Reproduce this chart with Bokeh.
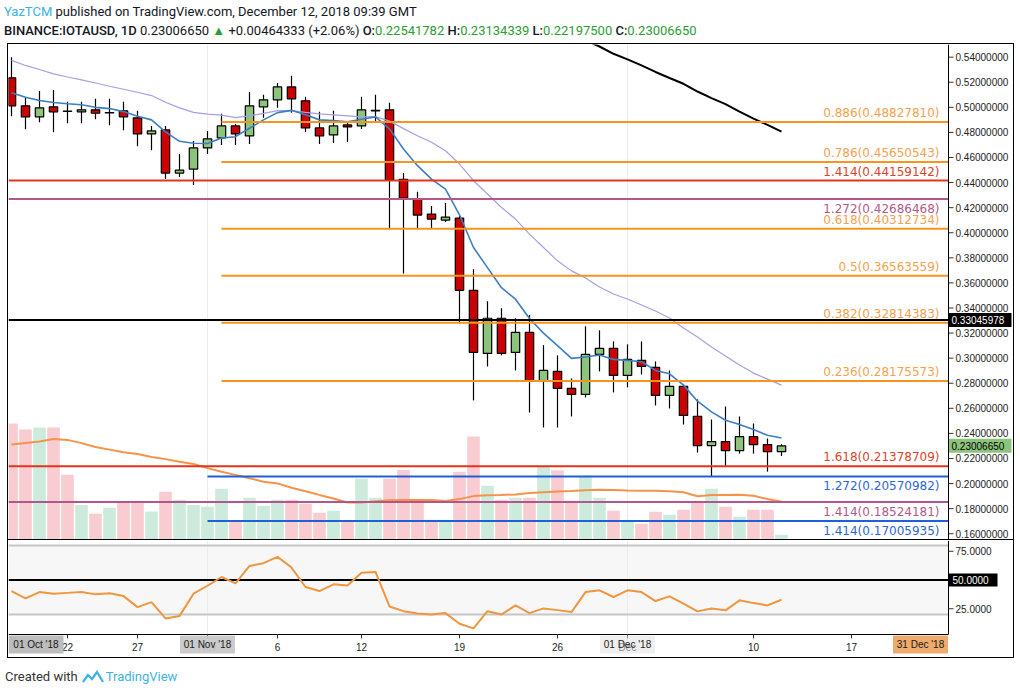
import math
import pandas as pd
from bokeh.plotting import figure
from bokeh.models import Range1d, Span, BoxAnnotation, Div
from bokeh.layouts import column
from bokeh.embed import file_html
from bokeh.resources import INLINE
from bokeh.core.properties import value

NaN = float("nan")

# ---------------- data ----------------
dates = pd.date_range("2018-10-18", "2018-12-12", freq="D")

opens = [0.5235, 0.5012, 0.4924, 0.5004, 0.4970, 0.4964, 0.4980, 0.4955, 0.4972, 0.4916,
         0.4788, 0.4820, 0.4476, 0.4508, 0.4676, 0.4756, 0.4852, 0.4772, 0.5004, 0.5060,
         0.5163, 0.5052, 0.4836, 0.4780, 0.4860, 0.4852, 0.4972, 0.4980, 0.4426, 0.4266,
         0.4149, 0.4101, 0.4117, 0.3541, 0.3038, 0.3318, 0.3046, 0.3206, 0.2817, 0.2894,
         0.2759, 0.2711, 0.3030, 0.3078, 0.2862, 0.2982, 0.2926, 0.2703, 0.2775, 0.2535,
         0.2303, 0.2335, 0.2263, 0.2375, 0.2311, 0.22541782]
highs = [0.5400, 0.5075, 0.5131, 0.5139, 0.5044, 0.5044, 0.5068, 0.5068, 0.5044, 0.4972,
         0.4852, 0.4852, 0.4628, 0.4732, 0.4812, 0.4948, 0.4868, 0.5123, 0.5100, 0.5195,
         0.5251, 0.5084, 0.4964, 0.4972, 0.4892, 0.5084, 0.5100, 0.5036, 0.4476, 0.4327,
         0.4213, 0.4237, 0.4135, 0.3709, 0.3454, 0.3398, 0.3318, 0.3344, 0.3104, 0.3022,
         0.2838, 0.3254, 0.3222, 0.3134, 0.3110, 0.3134, 0.2974, 0.2902, 0.2790, 0.2671,
         0.2511, 0.2615, 0.2535, 0.2479, 0.2359, 0.23134339]
lows = [0.4929, 0.4825, 0.4881, 0.4801, 0.4873, 0.4873, 0.4905, 0.4857, 0.4817, 0.4689,
        0.4657, 0.4428, 0.4444, 0.4380, 0.4628, 0.4700, 0.4700, 0.4708, 0.4916, 0.4996,
        0.4956, 0.4804, 0.4708, 0.4716, 0.4724, 0.4828, 0.4884, 0.4037, 0.3674, 0.4037,
        0.4037, 0.4085, 0.3278, 0.2663, 0.2934, 0.3022, 0.2902, 0.2567, 0.2447, 0.2447,
        0.2535, 0.2687, 0.2894, 0.2727, 0.2767, 0.2870, 0.2623, 0.2599, 0.2471, 0.2247,
        0.2055, 0.2135, 0.2239, 0.2239, 0.2095, 0.22197500]
closes = [0.5012, 0.4924, 0.4996, 0.4964, 0.4968, 0.4980, 0.4953, 0.4958, 0.4924, 0.4788,
          0.4812, 0.4476, 0.4500, 0.4676, 0.4748, 0.4852, 0.4788, 0.5012, 0.5060, 0.5163,
          0.5068, 0.4836, 0.4772, 0.4852, 0.4844, 0.4980, 0.4976, 0.4420, 0.4277, 0.4141,
          0.4109, 0.4125, 0.3541, 0.3046, 0.3318, 0.3038, 0.3206, 0.2817, 0.2902, 0.2759,
          0.2711, 0.3030, 0.3078, 0.2862, 0.2990, 0.2934, 0.2703, 0.2775, 0.2543, 0.2303,
          0.2335, 0.2263, 0.2375, 0.2311, 0.22542317, 0.23006650]
volumes = [116.7, 110.7, 112.7, 112.7, 65.7, 35.4, 26.7, 32.7, 37.7, 37.7,
           29.0, 48.7, 40.7, 35.4, 33.7, 51.7, 19.7, 42.7, 34.7, 40.7,
           40.7, 36.7, 27.7, 29.7, 18.7, 61.7, 42.7, 61.7, 70.4, 38.0,
           20.7, 20.7, 68.7, 103.7, 54.7, 40.7, 42.7, 42.7, 74.7, 70.0,
           39.7, 64.7, 42.7, 29.7, 19.7, 16.7, 28.7, 25.7, 30.7, 37.7,
           51.7, 33.7, 23.7, 30.7, 30.7, 5.7]
volume_ma = [95.7, 97.2, 98.7, 101.4, 100.4, 97.2, 93.4, 90.7, 88.0, 86.4,
             83.4, 81.2, 78.7, 76.4, 72.2, 68.7, 65.5, 62.2, 58.7, 57.0,
             52.7, 49.2, 45.5, 41.9, 38.0, 38.0, 39.2, 40.2, 40.4, 40.4,
             40.4, 39.5, 41.3, 44.3, 45.2, 45.5, 46.0, 47.4, 48.2, 48.9,
             49.5, 50.2, 50.7, 50.3, 49.9, 49.7, 49.7, 49.2, 48.1, 44.1,
             45.4, 45.5, 45.7, 44.7, 41.4, 38.7]
ma_fast = [0.5116, 0.5080, 0.5054, 0.5038, 0.5028, 0.5020, 0.5000, 0.4990, 0.4966, 0.4929,
           0.4900, 0.4804, 0.4729, 0.4713, 0.4712, 0.4756, 0.4766, 0.4833, 0.4900, 0.4958,
           0.4976, 0.4940, 0.4900, 0.4894, 0.4884, 0.4905, 0.4924, 0.4828, 0.4668, 0.4535,
           0.4428, 0.4348, 0.4143, 0.3882, 0.3722, 0.3562, 0.3470, 0.3316, 0.3200, 0.3100,
           0.2998, 0.3009, 0.3025, 0.2990, 0.2982, 0.2971, 0.2902, 0.2875, 0.2785, 0.2657,
           0.2572, 0.2505, 0.2471, 0.2431, 0.2385, 0.2364]
ma_slow = [0.5374, 0.5334, 0.5302, 0.5267, 0.5242, 0.5219, 0.5194, 0.5168, 0.5144, 0.5120,
           0.5094, 0.5040, 0.4996, 0.4960, 0.4946, 0.4938, 0.4918, 0.4932, 0.4952, 0.4974,
           0.4974, 0.4960, 0.4948, 0.4940, 0.4932, 0.4924, 0.4926, 0.4890, 0.4830, 0.4774,
           0.4721, 0.4654, 0.4548, 0.4415, 0.4309, 0.4201, 0.4109, 0.3989, 0.3882, 0.3776,
           0.3696, 0.3640, 0.3568, 0.3512, 0.3472, 0.3424, 0.3376, 0.3320, 0.3240, 0.3168,
           0.3089, 0.3017, 0.2945, 0.2881, 0.2833, 0.2785]
ma_long = [NaN] * 41 + [0.5535, 0.5485, 0.5427, 0.5382, 0.5334, 0.5282, 0.5234, 0.5188,
                        0.5126, 0.5074, 0.5026, 0.4966, 0.4910, 0.4860, 0.4806]
rsi = [40.4, 34.0, 39.5, 38.1, 38.8, 39.5, 37.5, 38.4, 36.0, 26.4,
       30.8, 16.6, 18.6, 38.1, 45.0, 52.6, 47.1, 62.2, 64.6, 70.1,
       60.8, 43.9, 40.4, 46.2, 45.3, 56.4, 57.0, 27.0, 22.9, 20.9,
       20.0, 21.2, 11.9, 7.9, 22.9, 20.0, 27.9, 21.2, 25.3, 23.8,
       22.1, 39.5, 41.0, 35.2, 41.0, 39.5, 31.7, 35.8, 29.5, 22.7,
       25.3, 23.6, 32.3, 29.9, 27.9, 32.8]

fib_ratios = ["0.886", "0.786", "1.414", "1.272", "0.618", "0.5", "0.382", "0.236",
              "1.618", "1.272", "1.414", "1.414"]
fib_levels = [0.48827810, 0.45650543, 0.44159142, 0.42686468, 0.40312734, 0.36563559,
              0.32814383, 0.28175573, 0.21378709, 0.20570982, 0.18524181, 0.17005935]
fib_kind = ["retr", "retr", "ext_r", "ext_m", "retr", "retr", "retr", "retr",
            "ext_r", "ext_b", "ext_m", "ext_b"]
fib_start = {"retr": "2018-11-02", "ext_b": "2018-11-01", "ext_r": None, "ext_m": None}
hline_level = 0.33045978

price_ticks = [0.16, 0.18, 0.20, 0.22, 0.24, 0.26, 0.28, 0.30, 0.32, 0.34, 0.36, 0.38,
               0.40, 0.42, 0.44, 0.46, 0.48, 0.50, 0.52, 0.54]
rsi_ticks = [25, 50, 75]
rsi_mid = 50
rsi_bands = [20, 80]
x_tick_dates = ["2018-10-22", "2018-10-27", "2018-11-01", "2018-11-06", "2018-11-12",
                "2018-11-19", "2018-11-26", "2018-12-01", "2018-12-10", "2018-12-17"]
x_tick_labels = ["22", "27", "Nov", "6", "12", "19", "26", "Dec", "10", "17"]
month_marks = ["2018-11-01", "2018-12-01"]

symbol, interval = "BINANCE:IOTAUSD", "1D"
change, change_pct = 0.00464333, 2.06

# ---------------- styling / geometry ----------------
UP, DOWN = "#8cc47c", "#cc0000"
VOL_UP, VOL_DOWN = "#cdebdc", "#f8ccd0"
line_col = {"retr": "#f7931e", "ext_r": "#e5331b", "ext_m": "#b3568c", "ext_b": "#1f5fd8"}
text_col = {"retr": "#f2a24f", "ext_r": "#d9452c", "ext_m": "#b05a8c", "ext_b": "#2d66d4"}
AXF = value("Liberation Sans")
AXC = "#222222"

d0 = dates[0]
days = [(d - d0).days for d in dates]
def day_of(s):
    return (pd.Timestamp(s) - d0).days

FRAME_W = 1005            # full width incl. price scale
PX_DAY = 14.0
X0 = -0.214
XA = X0 + 940 / PX_DAY    # price-scale edge
XR = X0 + FRAME_W / PX_DAY

# ---------------- main pane ----------------
p = figure(frame_width=FRAME_W, frame_height=495, x_range=Range1d(X0, XR),
           y_range=Range1d(0.1546, 0.5501), x_axis_location=None, y_axis_location=None,
           toolbar_location=None, output_backend="svg",
           min_border_left=0, min_border_top=0, min_border_bottom=0, min_border_right=0)
p.grid.visible = False
p.outline_line_color = None
p.background_fill_color = "white"
p.styles = {"border-bottom": "1px solid black"}

for m in month_marks:
    p.add_layout(Span(location=day_of(m), dimension="height", line_color="#ececec",
                      line_width=1, level="underlay"))

p.extra_y_ranges = {"vol": Range1d(0, 495)}
vol_colors = [VOL_UP if c >= o else VOL_DOWN for o, c in zip(opens, closes)]
p.vbar(x=days, top=volumes, bottom=0, width=0.9, fill_color=vol_colors,
       line_color=None, y_range_name="vol")
p.line(days, volume_ma, y_range_name="vol", line_color="#f7924a", line_width=2)

# candles
p.segment(x0=days, y0=highs, x1=days, y1=lows, line_color="black", line_width=1.2)
body_top = [max(o, c) for o, c in zip(opens, closes)]
body_bot = [min(o, c) for o, c in zip(opens, closes)]
body_col = [UP if c >= o else DOWN for o, c in zip(opens, closes)]
p.vbar(x=days, top=body_top, bottom=body_bot, width=0.6, fill_color=body_col,
       line_color="black", line_width=1.2)

# moving averages
p.line(days, ma_slow, line_color="#a69ee6", line_width=1.2)
p.line(days, ma_fast, line_color="#3b7fc1", line_width=1.6)
p.line(days, ma_long, line_color="black", line_width=2)

# fib levels
nf = len(fib_levels)
x_start = [X0 if fib_start[k] is None else day_of(fib_start[k]) for k in fib_kind]
p.segment(x0=x_start, y0=fib_levels, x1=[XA] * nf, y1=fib_levels,
          line_color=[line_col[k] for k in fib_kind], line_width=2)
fib_text = [f"{r}({v:.8f})" for r, v in zip(fib_ratios, fib_levels)]
above = [i for i, k in enumerate(fib_kind) if k in ("retr", "ext_r")]
below = [i for i, k in enumerate(fib_kind) if k in ("ext_m", "ext_b")]
for idx, base, off in ((above, "bottom", -2), (below, "top", 3)):
    p.text(x=[XA] * len(idx), y=[fib_levels[i] for i in idx],
           text=[fib_text[i] for i in idx],
           text_color=[text_col[fib_kind[i]] for i in idx], text_font=value("DejaVu Sans"),
           text_font_size="12px", text_align="right", text_baseline=base,
           x_offset=-9, y_offset=off)
p.segment(x0=[X0], y0=[hline_level], x1=[XA], y1=[hline_level], line_color="black",
          line_width=2)

# price scale (drawn on the right of the chart area)
p.add_layout(Span(location=XA, dimension="height", line_color="black", line_width=1))
p.ray(x=[XA] * len(price_ticks), y=price_ticks, length=5, length_units="screen", angle=0,
      line_color="#333333", line_width=1)
p.text(x=[XA] * len(price_ticks), y=price_ticks, text=[f"{t:.8f}" for t in price_ticks],
       x_offset=7, text_align="left", text_baseline="middle", text_font=AXF,
       text_font_size="10px", text_color=AXC)
box_vals = [hline_level, closes[-1]]
box_fill = ["black", UP]
box_text = ["white", "black"]
p.rect(x=[XA + 31.5 / PX_DAY] * 2, y=box_vals, width=63, height=14, width_units="screen",
       height_units="screen", fill_color=box_fill, line_color=None)
p.text(x=[XA] * 2, y=box_vals, text=[f"{v:.8f}" for v in box_vals], x_offset=3,
       text_align="left", text_baseline="middle", text_font=AXF, text_font_size="10px",
       text_color=box_text)

# ---------------- RSI pane + time axis ----------------
RSI_LO, RSI_HI = 2.6, 84.35
PANE_PX, AXIS_PX = 94, 23
u_px = (RSI_HI - RSI_LO) / PANE_PX
Y_BOT = RSI_LO - AXIS_PX * u_px
y_lab = RSI_LO - 12.5 * u_px
y_box = RSI_LO - 10 * u_px

r = figure(frame_width=FRAME_W, frame_height=PANE_PX + AXIS_PX, x_range=p.x_range,
           y_range=Range1d(Y_BOT, RSI_HI), x_axis_location=None, y_axis_location=None,
           toolbar_location=None, output_backend="svg",
           min_border_left=0, min_border_top=0, min_border_bottom=0, min_border_right=0)
r.grid.visible = False
r.outline_line_color = None
r.add_layout(BoxAnnotation(left=X0, right=XA, bottom=rsi_bands[0], top=rsi_bands[1],
                           fill_color="#f7f7f7", fill_alpha=1, line_color=None,
                           level="underlay"))
r.segment(x0=[day_of(m) for m in month_marks], y0=[RSI_LO] * 2,
          x1=[day_of(m) for m in month_marks], y1=[RSI_HI] * 2,
          line_color="#ececec", line_width=1)
r.segment(x0=[X0] * 2, y0=rsi_bands, x1=[XA] * 2, y1=rsi_bands, line_color="#c6c6c6",
          line_width=2)
r.segment(x0=[X0], y0=[rsi_mid], x1=[XA], y1=[rsi_mid], line_color="black", line_width=2)
r.line(days, rsi, line_color="#f0963e", line_width=2)

# rsi scale
r.segment(x0=[XA], y0=[RSI_LO], x1=[XA], y1=[RSI_HI], line_color="black", line_width=1)
r.segment(x0=[X0], y0=[RSI_LO], x1=[XA], y1=[RSI_LO], line_color="black", line_width=1)
r.ray(x=[XA] * len(rsi_ticks), y=rsi_ticks, length=5, length_units="screen", angle=0,
      line_color="#333333")
r.rect(x=[XA + 24.5 / PX_DAY], y=[rsi_mid], width=49, height=13, width_units="screen",
       height_units="screen", fill_color="black", line_color=None)
r.text(x=[XA] * len(rsi_ticks), y=rsi_ticks, text=[f"{t:.4f}" for t in rsi_ticks],
       x_offset=[4 if t == rsi_mid else 7 for t in rsi_ticks], text_align="left",
       text_baseline="middle", text_font=AXF, text_font_size="10px",
       text_color=["white" if t == rsi_mid else AXC for t in rsi_ticks])

# time axis: ticks and labels
tick_x = [day_of(t) for t in x_tick_dates]
r.ray(x=tick_x, y=[RSI_LO] * len(tick_x), length=4, length_units="screen",
      angle=-math.pi / 2, line_color="#333333")
r.text(x=tick_x, y=[y_lab] * len(tick_x), text=x_tick_labels, text_align="center",
       text_baseline="middle", text_font=AXF, text_font_size="10px", text_color=AXC)
sticky_text = ["01 Oct '18", "01 Nov '18", "01 Dec '18", "31 Dec '18"]
sticky_x = [X0 + 27.5 / PX_DAY, day_of("2018-11-01"), day_of("2018-12-01"),
            XA - 28 / PX_DAY]
sticky_fill = ["#bcbcbc", "#c8c8c8", "#e2e2e2", "#eeab6b"]
sticky_alpha = [1.0, 0.95, 0.55, 1.0]
r.rect(x=sticky_x, y=[y_box] * 4, width=55, height=18, width_units="screen",
       height_units="screen", fill_color=sticky_fill, fill_alpha=sticky_alpha,
       line_color=None)
r.text(x=sticky_x, y=[y_box] * 4, text=sticky_text, text_align="center",
       text_baseline="middle", text_font=AXF, text_font_size="10px", text_color="#1a1a1a")

# ---------------- header / footer ----------------
G = "#2a9d34"
last = len(closes) - 1
header_html = f"""
<div style="position:relative;top:2px;left:4px;font-family:Roboto,sans-serif;font-size:13px;
line-height:19px;color:#131722;white-space:nowrap;">
<div><span style="color:#3bb3e4">YazTCM</span> published on TradingView.com, December 12, 2018 09:39 GMT</div>
<div><span style="font-weight:500">{symbol}, {interval}</span> {closes[last]:.8f}
<span style="color:{G}">&#9650;</span> +{change:.8f} (+{change_pct:.2f}%)
<span style="font-weight:500">O:</span><span style="color:{G}">{opens[last]:.8f}</span>
<span style="font-weight:500">H:</span><span style="color:{G}">{highs[last]:.8f}</span>
<span style="font-weight:500">L:</span><span style="color:{G}">{lows[last]:.8f}</span>
<span style="font-weight:500">C:</span><span style="color:{G}">{closes[last]:.8f}</span></div>
</div>"""
header = Div(text=header_html, width=1013, height=43, margin=(0, 0, 0, 0))

footer_html = """
<div style="position:relative;top:10px;left:5px;font-family:Roboto,sans-serif;font-size:13px;
color:#333;white-space:nowrap;display:flex;align-items:center;">
<span>Created with</span>
<svg width="22" height="14" viewBox="0 0 22 14" style="margin:0 2px 0 4px">
<path d="M1 12 L6 5 L10 9 L15 2 L21 12" fill="none" stroke="#3bb3e4" stroke-width="2.2"/></svg>
<span style="color:#3bb3e4">TradingView</span></div>"""
footer = Div(text=footer_html, width=1013, height=30, margin=(0, 0, 0, 0))

charts = column(p, r, spacing=0, margin=(0, 0, 0, 7),
                styles={"border": "1px solid black"})
layout = column(header, charts, footer, spacing=0)

open("out.html", "w").write(file_html(layout, INLINE))
